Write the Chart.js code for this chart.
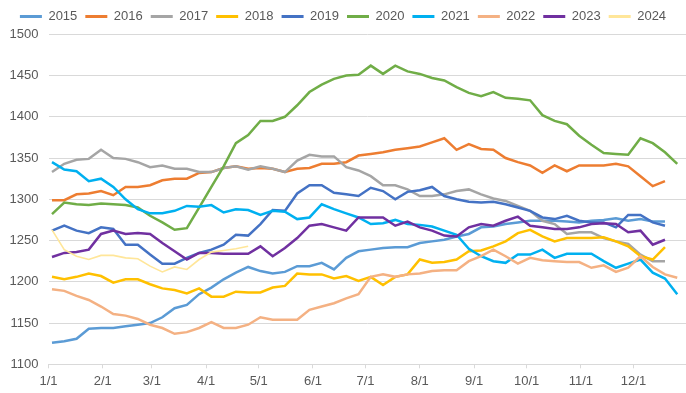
<!DOCTYPE html>
<html>
<head>
<meta charset="utf-8">
<title>Weekly price by year</title>
<script src="https://cdn.jsdelivr.net/npm/chart.js@4.4.1/dist/chart.umd.min.js"></script>
<style>
  html, body { margin: 0; padding: 0; background: #ffffff; }
  canvas { display: block; }
</style>
</head>
<body>
<canvas id="chart" width="686" height="393"></canvas>
<script>
// x positions: day of year for each weekly reading
const weekDays = [2, 9, 16, 23, 30, 37, 44, 51, 58, 65, 72, 79, 86, 93, 100, 107, 114, 121, 128, 135,
  142, 149, 156, 163, 170, 177, 184, 191, 198, 205, 212, 219, 226, 233, 240, 247, 254, 261, 268, 275,
  282, 289, 296, 303, 310, 317, 324, 331, 338, 345, 352, 359];

// month starts on the x axis
const monthDays = [0, 31, 59, 90, 120, 151, 181, 212, 243, 273, 304, 334];
const monthLabels = ["1/1", "2/1", "3/1", "4/1", "5/1", "6/1", "7/1", "8/1", "9/1", "10/1", "11/1", "12/1"];

const years = ["2015", "2016", "2017", "2018", "2019", "2020", "2021", "2022", "2023", "2024"];
const colors = ["#5B9BD5", "#ED7D31", "#A5A5A5", "#FFC000", "#4472C4", "#70AD47", "#00B0F0", "#F4B183", "#7030A0", "#FFE699"];

const y2015 = [1126, 1128, 1131, 1143, 1144, 1144, 1146, 1148, 1150, 1157, 1168, 1172, 1185, 1193,
  1203, 1211, 1218, 1213, 1210, 1212, 1219, 1219, 1223, 1215, 1229, 1237, 1239,
  1241, 1242, 1242, 1247, 1249, 1251, 1255, 1258, 1266, 1267, 1270, 1272, 1274,
  1274, 1274, 1273, 1272, 1274, 1275, 1277, 1274, 1276, 1273, 1273];
const y2016 = [1299, 1299, 1306, 1307, 1310, 1305, 1315, 1315, 1317, 1323, 1325, 1325, 1332, 1333,
  1338, 1340, 1337, 1338, 1337, 1333, 1337, 1338, 1343, 1343, 1345, 1353, 1355,
  1357, 1360, 1362, 1364, 1369, 1374, 1360, 1367, 1361, 1360, 1350, 1345, 1341,
  1332, 1341, 1334, 1341, 1341, 1341, 1343, 1340, 1328, 1316, 1322];
const y2017 = [1333, 1343, 1348, 1349, 1360, 1350, 1349, 1345, 1339, 1341, 1337, 1337, 1333, 1333,
  1338, 1340, 1336, 1340, 1337, 1333, 1347, 1354, 1352, 1352, 1339, 1335, 1328,
  1317, 1317, 1312, 1304, 1304, 1306, 1310, 1312, 1306, 1301, 1298, 1292, 1286,
  1274, 1270, 1258, 1260, 1260, 1253, 1249, 1246, 1233, 1225, 1225];
const y2018 = [1206, 1203, 1206, 1210, 1207, 1199, 1203, 1203, 1197, 1192, 1190, 1186, 1192, 1182,
  1182, 1188, 1187, 1187, 1193, 1195, 1210, 1209, 1209, 1204, 1207, 1201, 1206,
  1196, 1206, 1209, 1227, 1223, 1224, 1227, 1237, 1238, 1243, 1249, 1259, 1263,
  1255, 1249, 1253, 1253, 1253, 1254, 1249, 1243, 1231, 1227, 1242];
const y2019 = [1262, 1268, 1262, 1259, 1266, 1264, 1245, 1245, 1233, 1222, 1222, 1229, 1235, 1239,
  1245, 1257, 1256, 1270, 1287, 1286, 1307, 1317, 1317, 1308, 1306, 1304, 1314,
  1310, 1300, 1309, 1311, 1315, 1304, 1300, 1297, 1296, 1297, 1294, 1290, 1286,
  1278, 1276, 1280, 1274, 1272, 1272, 1266, 1281, 1281, 1272, 1268];
const y2020 = [1282, 1296, 1294, 1293, 1295, 1294, 1293, 1290, 1280, 1272, 1263, 1265, 1290, 1315,
  1340, 1368, 1378, 1395, 1395, 1400, 1414, 1430, 1439, 1446, 1450, 1451, 1462,
  1452, 1462, 1455, 1452, 1447, 1444, 1436, 1429, 1425, 1430, 1423, 1422, 1420,
  1402, 1395, 1391, 1377, 1366, 1356, 1355, 1354, 1374, 1368, 1357, 1343];
const y2021 = [1345, 1336, 1334, 1322, 1325, 1315, 1300, 1288, 1283, 1283, 1286, 1292, 1291, 1293,
  1284, 1288, 1287, 1281, 1286, 1285, 1276, 1278, 1294, 1288, 1283, 1278, 1270,
  1271, 1275, 1270, 1269, 1267, 1262, 1257, 1240, 1231, 1225, 1223, 1233, 1233,
  1239, 1229, 1234, 1234, 1234, 1225, 1217, 1222, 1227, 1211, 1204, 1185];
const y2022 = [1191, 1189, 1183, 1178, 1170, 1161, 1159, 1155, 1148, 1144, 1137, 1139, 1144, 1151,
  1144, 1144, 1148, 1157, 1154, 1154, 1154, 1166, 1170, 1174, 1180, 1185, 1206,
  1209, 1206, 1209, 1210, 1213, 1214, 1214, 1225, 1231, 1239, 1231, 1222, 1229,
  1226, 1225, 1224, 1224, 1217, 1220, 1212, 1217, 1231, 1218, 1209, 1205];
const y2023 = [1230, 1235, 1236, 1239, 1258, 1262, 1258, 1259, 1258, 1247, 1237, 1227, 1235, 1235,
  1234, 1234, 1234, 1243, 1231, 1241, 1253, 1268, 1270, 1266, 1262, 1278, 1278,
  1278, 1268, 1273, 1266, 1262, 1256, 1255, 1266, 1270, 1268, 1274, 1279, 1268,
  1266, 1264, 1264, 1266, 1270, 1271, 1270, 1260, 1262, 1245, 1251];
const y2024 = [1263, 1239, 1231, 1227, 1232, 1232, 1229, 1228, 1219, 1212, 1218, 1215, 1227,
  1236, 1238, 1240, 1243];

const series = [y2015, y2016, y2017, y2018, y2019, y2020, y2021, y2022, y2023, y2024];

const FONT = { family: "'Liberation Sans', Arial, sans-serif", size: 13 };
const GRID = "#d9d9d9";
const TEXT = "#595959";

const datasets = series.map((values, i) => ({
  label: years[i],
  data: values.map((v, k) => ({ x: weekDays[k], y: v })),
  borderColor: colors[i],
  backgroundColor: colors[i],
  borderWidth: years[i] === "2024" ? 1.6 : 2.5,
  pointRadius: 0,
  tension: 0,
  // later years are painted over earlier ones
  order: years.length - i,
}));

// a little extra room under the legend row
const legendGap = {
  id: "legendGap",
  beforeInit(chart) {
    const fit = chart.legend.fit;
    chart.legend.fit = function () {
      fit.call(this);
      this.height += 1.3;
    };
  },
};

new Chart(document.getElementById("chart"), {
  type: "line",
  data: { datasets },
  plugins: [legendGap],
  options: {
    responsive: false,
    animation: false,
    devicePixelRatio: 1,
    layout: { padding: { top: 2, left: 0, right: 0, bottom: 0 } },
    plugins: {
      tooltip: { enabled: false },
      legend: {
        position: "top",
        labels: {
          font: FONT,
          color: TEXT,
          boxWidth: 22,
          boxHeight: 3,
          padding: 8,
          sort: (a, b) => a.datasetIndex - b.datasetIndex,
          generateLabels(chart) {
            return Chart.defaults.plugins.legend.labels.generateLabels(chart).map((item) => {
              item.lineWidth = 0;
              item.fillStyle = colors[item.datasetIndex];
              return item;
            });
          },
        },
      },
    },
    scales: {
      x: {
        type: "linear",
        min: 0,
        max: 364,
        afterBuildTicks(scale) {
          scale.ticks = monthDays.map((d) => ({ value: d }));
        },
        afterFit(scale) {
          scale.height = 28.7;
        },
        ticks: {
          font: FONT,
          color: TEXT,
          padding: 5,
          autoSkip: false,
          maxRotation: 0,
          callback: (value) => {
            const k = monthDays.indexOf(value);
            return k >= 0 ? monthLabels[k] : "";
          },
        },
        grid: { drawOnChartArea: false, color: GRID, tickLength: 4 },
        border: { color: GRID },
      },
      y: {
        min: 1100,
        max: 1500,
        afterFit(scale) {
          scale.width = 48.5;
        },
        ticks: {
          stepSize: 50,
          font: FONT,
          color: TEXT,
          padding: 10,
          callback: (value) => String(value),
        },
        grid: { color: GRID, drawTicks: false },
        border: { display: false },
      },
    },
  },
});
</script>
</body>
</html>
